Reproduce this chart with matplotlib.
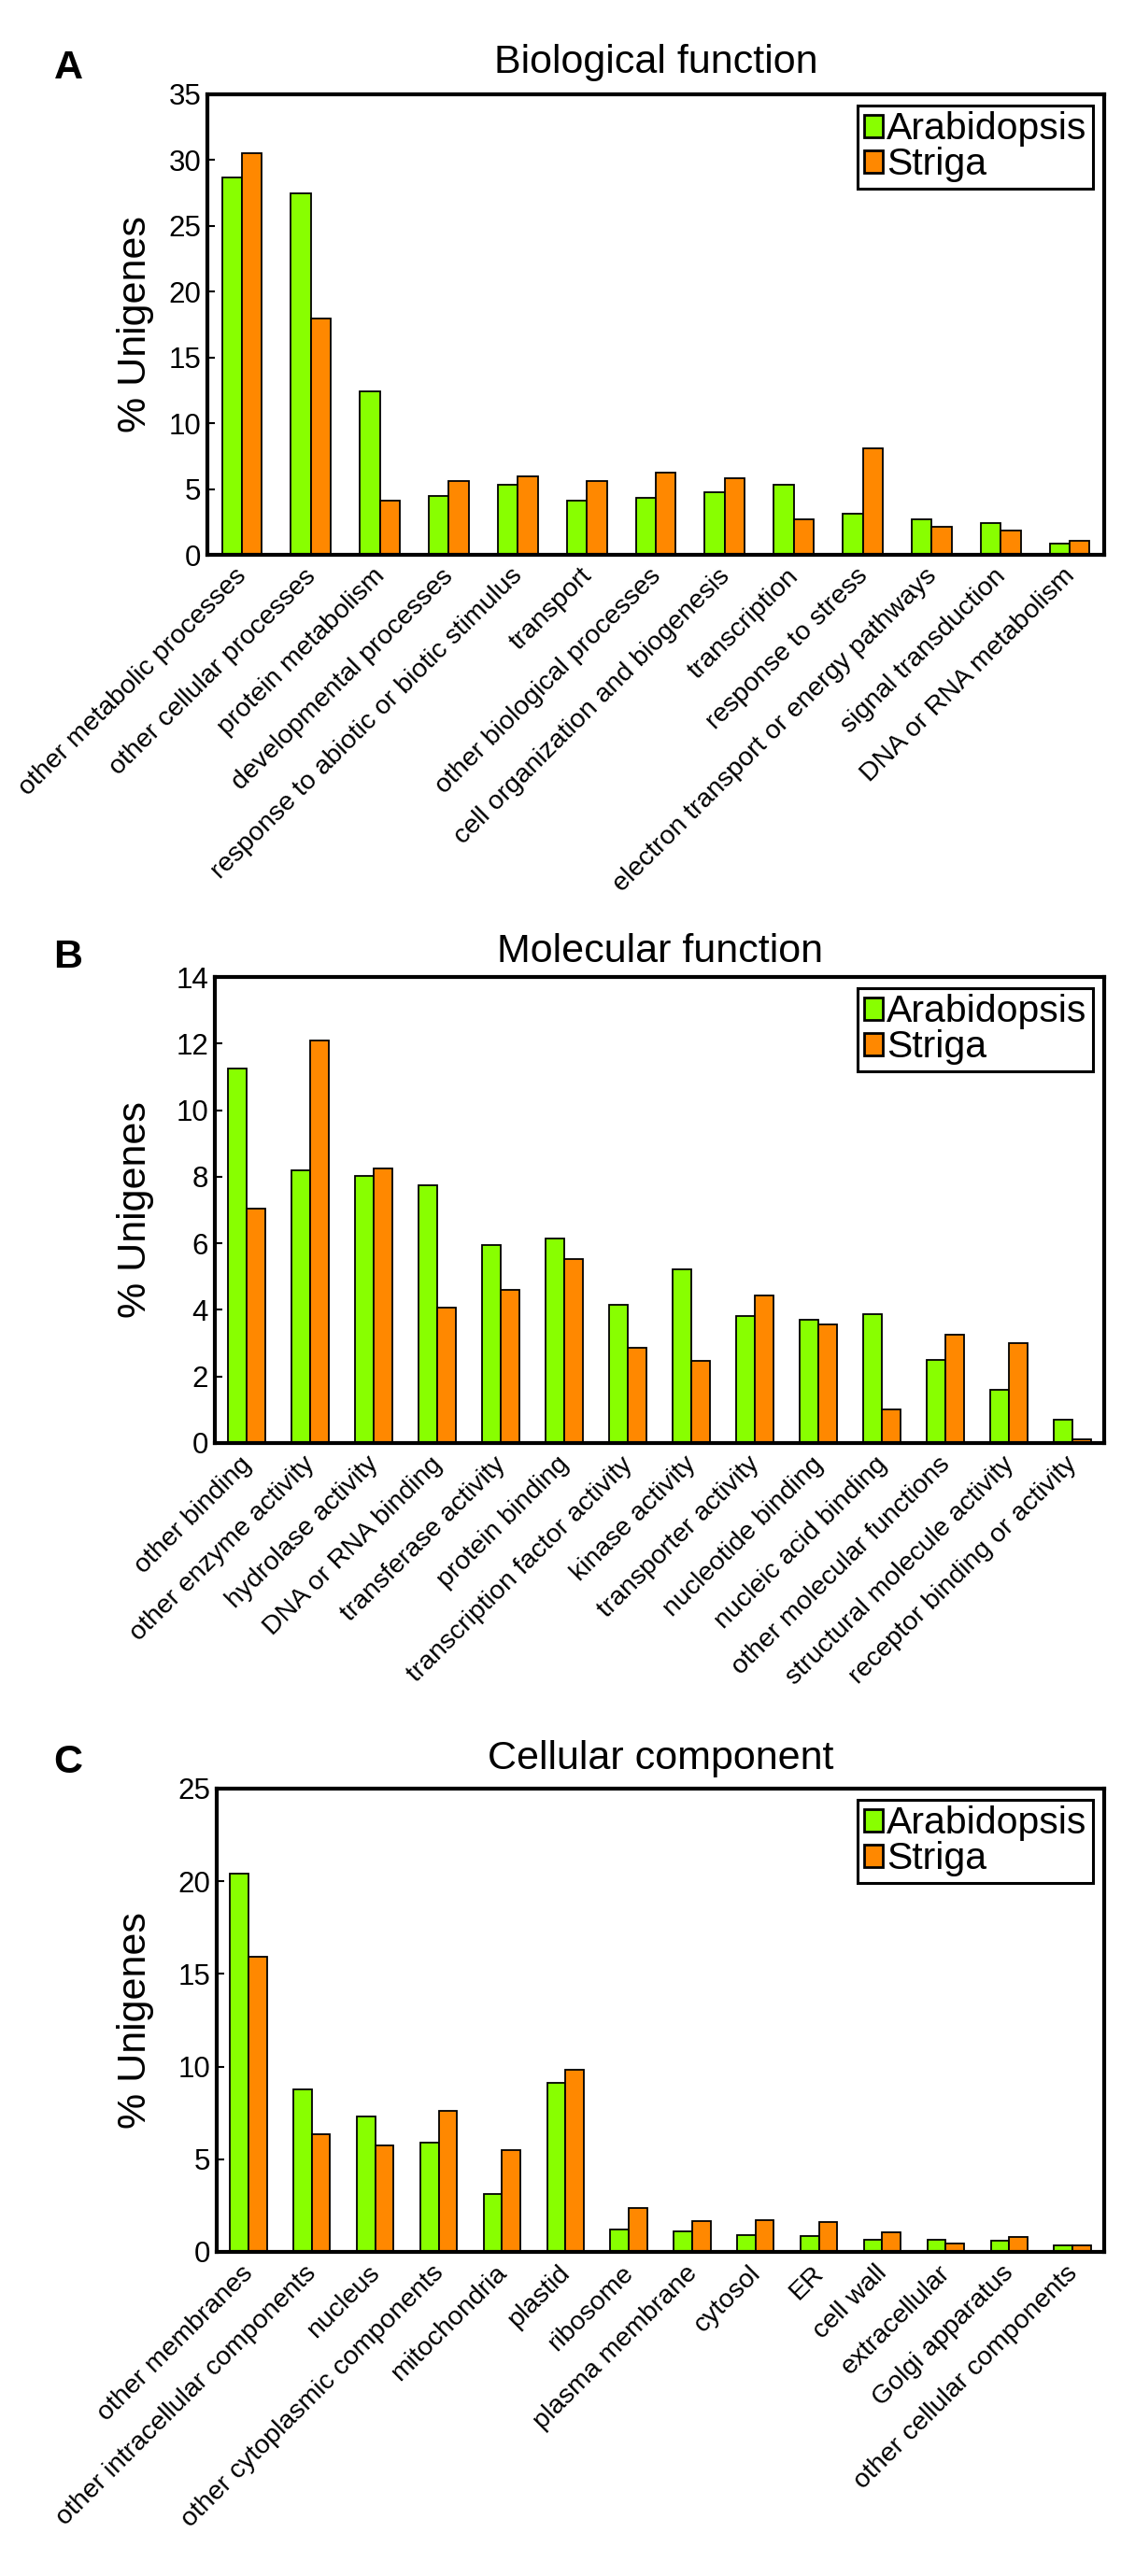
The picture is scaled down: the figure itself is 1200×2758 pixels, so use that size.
import matplotlib
matplotlib.use("Agg")
import matplotlib.pyplot as plt
import matplotlib.transforms as mtransforms
import numpy as np

# ----------------------------- data ------------------------------------

bio_labels = [
    "other metabolic processes", "other cellular processes",
    "protein metabolism", "developmental processes",
    "response to abiotic or biotic stimulus", "transport",
    "other biological processes", "cell organization and biogenesis",
    "transcription", "response to stress",
    "electron transport or energy pathways", "signal transduction",
    "DNA or RNA metabolism",
]
bio_arabidopsis = [28.7, 27.5, 12.4, 4.5, 5.3, 4.1, 4.35, 4.75, 5.3, 3.15, 2.7, 2.4, 0.85]
bio_striga = [30.5, 17.95, 4.1, 5.6, 5.95, 5.6, 6.25, 5.85, 2.7, 8.1, 2.1, 1.85, 1.1]

mol_labels = [
    "other binding", "other enzyme activity", "hydrolase activity",
    "DNA or RNA binding", "transferase activity", "protein binding",
    "transcription factor activity", "kinase activity",
    "transporter activity", "nucleotide binding", "nucleic acid binding",
    "other molecular functions", "structural molecule activity",
    "receptor binding or activity",
]
mol_arabidopsis = [11.25, 8.2, 8.02, 7.73, 5.94, 6.15, 4.15, 5.23, 3.82, 3.7, 3.86, 2.5, 1.6, 0.7]
mol_striga = [7.05, 12.08, 8.24, 4.07, 4.6, 5.53, 2.86, 2.46, 4.42, 3.55, 1.0, 3.25, 3.0, 0.12]

cel_labels = [
    "other membranes", "other intracellular components", "nucleus",
    "other cytoplasmic components", "mitochondria", "plastid", "ribosome",
    "plasma membrane", "cytosol", "ER", "cell wall", "extracellular",
    "Golgi apparatus", "other cellular components",
]
cel_arabidopsis = [20.4, 8.75, 7.3, 5.9, 3.15, 9.1, 1.2, 1.12, 0.93, 0.85, 0.66, 0.65, 0.6, 0.33]
cel_striga = [15.95, 6.35, 5.77, 7.63, 5.5, 9.83, 2.35, 1.67, 1.72, 1.6, 1.05, 0.47, 0.8, 0.33]

series_names = ["Arabidopsis", "Striga"]

# ----------------------------- styling ---------------------------------

GREEN = "#88FF00"
ORANGE = "#FF8800"
W, H = 1200, 2758

plt.rcParams.update({
    "font.family": ["Liberation Sans", "DejaVu Sans"],
    "axes.linewidth": 3.0,
})


def px_box(left, top, right, bottom):
    """Pixel box (from top-left) -> figure fraction rect."""
    return [left / W, 1 - bottom / H, (right - left) / W, (bottom - top) / H]


def panel(fig, box, letter, title, labels, arab, striga, ymax, ystep,
          title_y, letter_y):
    ax = fig.add_axes(px_box(*box))
    x = np.arange(len(labels))
    bw = 0.29
    ax.bar(x - bw / 2, arab, bw, color=GREEN, edgecolor="black",
           linewidth=1.3, label=series_names[0])
    ax.bar(x + bw / 2, striga, bw, color=ORANGE, edgecolor="black",
           linewidth=1.3, label=series_names[1])
    ax.set_xlim(-0.5, len(labels) - 0.5)
    ax.set_ylim(0, ymax)
    ax.set_yticks(np.arange(0, ymax + 0.1, ystep))
    ax.tick_params(axis="y", direction="in", length=6, width=1.5,
                   labelsize=22.5, pad=5)
    ax.tick_params(axis="x", length=0, pad=7)
    ax.set_xticks(x)
    ax.set_xticklabels(labels, rotation=45, ha="right",
                       rotation_mode="anchor", fontsize=20.5)
    # nudge so the rotated label's right tip sits just right of the group centre
    offset = mtransforms.ScaledTranslation(-8 / 100, 0, fig.dpi_scale_trans)
    for lab in ax.get_xticklabels():
        lab.set_transform(lab.get_transform() + offset)

    leg = ax.legend(loc="upper right", fontsize=29.5, frameon=True,
                    fancybox=False, edgecolor="black", framealpha=1,
                    handlelength=0.5, handleheight=0.5, handletextpad=0.1,
                    labelspacing=0.0, borderpad=0.15, borderaxespad=0.3)
    leg.get_frame().set_linewidth(2.2)
    for h in leg.legend_handles:
        h.set_linewidth(2.0)

    cx = (box[0] + box[2]) / 2 / W
    fig.text(cx, 1 - title_y / H, title, ha="center", va="center",
             fontsize=31)
    fig.text(73 / W, 1 - letter_y / H, letter, ha="center", va="center",
             fontsize=31, fontweight="bold")
    fig.text(145 / W, 1 - (box[1] + box[3]) / 2 / H, "% Unigenes",
             rotation=90, ha="center", va="center", fontsize=31)
    return ax


fig = plt.figure(figsize=(W / 100, H / 100), dpi=100)

panel(fig, (222, 101, 1182, 594), "A", "Biological function",
      bio_labels, bio_arabidopsis, bio_striga, 35, 5, 67, 73)
panel(fig, (230, 1046, 1182, 1545), "B", "Molecular function",
      mol_labels, mol_arabidopsis, mol_striga, 14, 2, 1019, 1025)
panel(fig, (232, 1915, 1182, 2411), "C", "Cellular component",
      cel_labels, cel_arabidopsis, cel_striga, 25, 5, 1883, 1887)

fig.savefig("out.png", dpi=100, facecolor="white")
